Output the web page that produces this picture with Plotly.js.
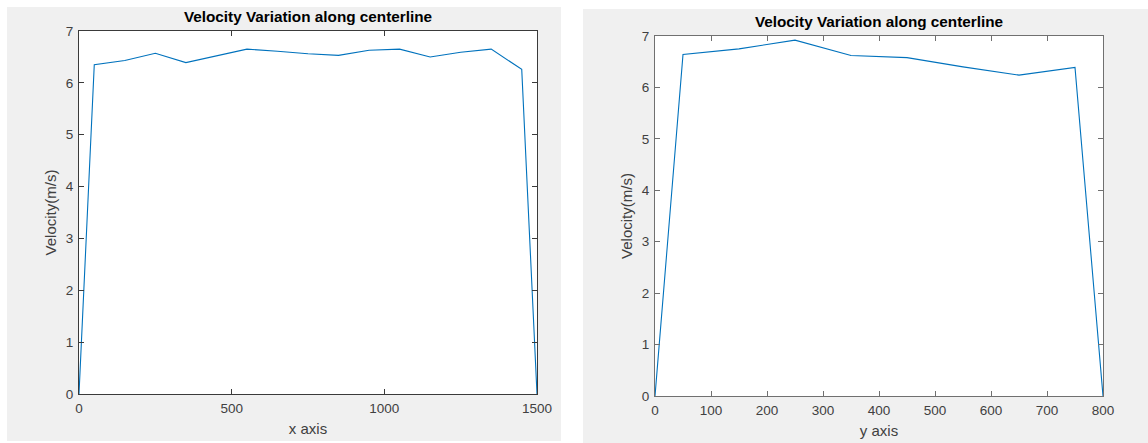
<!DOCTYPE html>
<html>
<head>
<meta charset="utf-8">
<script src="https://cdn.plot.ly/plotly-3.0.1.min.js"></script>
<style>
  html, body { margin: 0; padding: 0; background: #ffffff; width: 1148px; height: 443px; overflow: hidden; }
  #left { position: absolute; left: 7px; top: 7px; width: 554px; height: 434px; }
  #right { position: absolute; left: 583px; top: 9px; width: 565px; height: 434px; }
</style>
</head>
<body>
<div id="left"></div>
<div id="right"></div>
<script>
// Left chart: velocity along x centerline
const xPositions = [0, 50, 150, 250, 350, 450, 550, 650, 750, 850, 950, 1050, 1150, 1250, 1350, 1450, 1500];
const xVelocity  = [0, 6.35, 6.43, 6.57, 6.39, 6.52, 6.65, 6.61, 6.56, 6.53, 6.63, 6.65, 6.50, 6.59, 6.65, 6.26, 0];
const xTicks = [0, 500, 1000, 1500];

// Right chart: velocity along y centerline
const yPositions = [0, 50, 150, 250, 350, 450, 550, 650, 750, 800];
const yVelocity  = [0, 6.64, 6.75, 6.92, 6.62, 6.58, 6.40, 6.24, 6.39, 0];
const yTicks = [0, 100, 200, 300, 400, 500, 600, 700, 800];

const velTicks = [0, 1, 2, 3, 4, 5, 6, 7];
const chartTitle = 'Velocity Variation along centerline';
const yLabel = 'Velocity(m/s)';

const font = 'Liberation Sans, Arial, Helvetica, sans-serif';

function makeLayout(xTitle, xMax, xTickVals, margin, axisColor) {
  const axisCommon = {
    showline: true, linecolor: axisColor, linewidth: 1, mirror: 'allticks',
    ticks: 'inside', ticklen: 5, tickcolor: axisColor, tickwidth: 1,
    showgrid: false, zeroline: false,
    tickfont: { family: font, size: 13.5, color: '#404040' },
    fixedrange: true
  };
  return {
    width: margin.w, height: 434,
    margin: { l: margin.l, r: margin.r, t: margin.t, b: margin.b, pad: 0 },
    paper_bgcolor: '#f0f0f0',
    plot_bgcolor: '#ffffff',
    showlegend: false,
    title: {
      text: '<b>' + chartTitle + '</b>',
      font: { family: font, size: 15.3, color: '#000000' },
      x: margin.titleX, xanchor: 'center', xref: 'paper',
      y: margin.titleY, yanchor: 'middle', yref: 'container'
    },
    xaxis: Object.assign({}, axisCommon, {
      range: [0, xMax], tickvals: xTickVals, ticktext: xTickVals.map(String),
      ticklabelstandoff: 2,
      title: { text: xTitle, font: { family: font, size: 15, color: '#404040' }, standoff: 8 }
    }),
    yaxis: Object.assign({}, axisCommon, {
      range: [0, 7], tickvals: velTicks, ticktext: velTicks.map(String),
      ticklabelstandoff: 2,
      title: { text: yLabel, font: { family: font, size: 15, color: '#404040' }, standoff: 5 }
    })
  };
}

const lineStyle = { color: '#0072BD', width: 1.1 };

Plotly.newPlot('left', [{
  x: xPositions, y: xVelocity, type: 'scatter', mode: 'lines',
  line: lineStyle, hoverinfo: 'skip', cliponaxis: false
}], makeLayout('x axis', 1500, xTicks,
  { w: 554, l: 72, r: 24, t: 24, b: 47, titleX: 0.5, titleY: 0.978 }, '#3a3a3a'),
  { staticPlot: true, displayModeBar: false });

Plotly.newPlot('right', [{
  x: yPositions, y: yVelocity, type: 'scatter', mode: 'lines',
  line: lineStyle, hoverinfo: 'skip', cliponaxis: false
}], makeLayout('y axis', 800, yTicks,
  { w: 565, l: 72, r: 45, t: 27, b: 47, titleX: 0.5, titleY: 0.97 }, '#707070'),
  { staticPlot: true, displayModeBar: false });
</script>
</body>
</html>
